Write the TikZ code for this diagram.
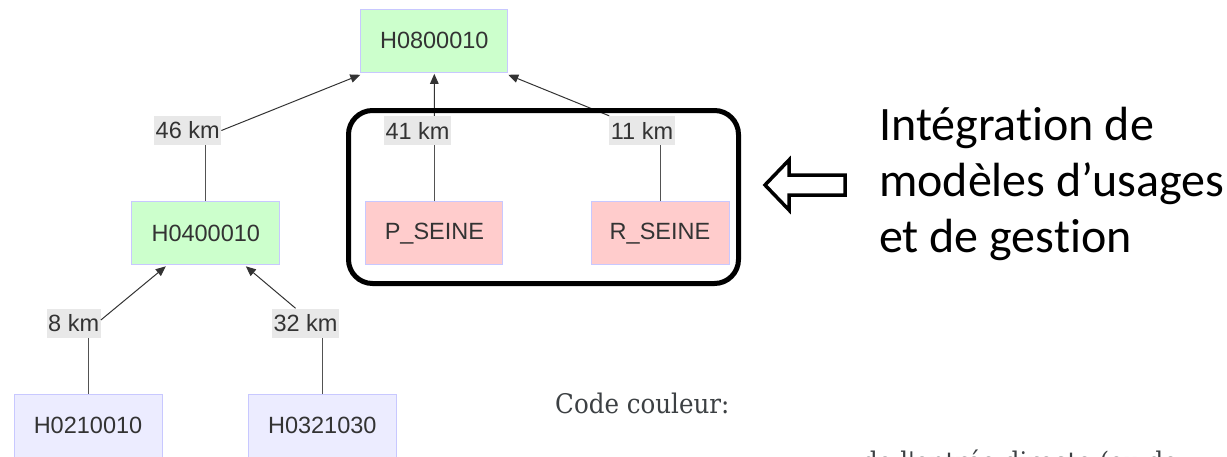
\documentclass[tikz,border=0pt]{standalone}
\usepackage{fontspec}
\setmainfont{Liberation Sans}
\newfontfamily\calib[Ligatures=NoCommon]{Carlito}
\newfontfamily\serifcode{DejaVu Serif}
\usetikzlibrary{arrows.meta,positioning,calc}
\definecolor{gfill}{HTML}{CCFFCC}
\definecolor{pfill}{HTML}{FFCCCC}
\definecolor{lfill}{HTML}{ECECFF}
\definecolor{bord}{HTML}{C8C8FF}
\definecolor{txt}{HTML}{333333}
\definecolor{lblbg}{HTML}{E8E8E8}
\definecolor{codetxt}{HTML}{3C4043}
\tikzset{
  station/.style={draw=bord, line width=1pt, inner sep=0pt, text=txt,
    minimum height=63pt, font=\fontsize{23.5}{28}\selectfont},
  greenbox/.style={station, fill=gfill},
  pinkbox/.style={station, fill=pfill},
  lavbox/.style={station, fill=lfill},
  kmlabel/.style={fill=lblbg, text=txt, inner xsep=1.5pt, inner ysep=0pt,
    minimum height=29pt, font=\fontsize{23.5}{28}\selectfont},
  stem/.style={draw=txt!85!white, line width=1pt},
  flow/.style={draw=txt, line width=1pt, -{Triangle[length=10pt,width=8.5pt]}},
  bigtext/.style={anchor=base west, inner sep=0pt, font=\calib\fontsize{48}{58}\selectfont},
  codetext/.style={anchor=base west, inner sep=0pt, text=codetxt, font=\serifcode\fontsize{27}{32}\selectfont}
}
\begin{document}
\begin{tikzpicture}[x=1pt,y=-1pt]
\useasboundingbox (0,0) rectangle (1227,456);

% station nodes
\node[greenbox, minimum width=147pt] (H08) at (434.3,40.8) {H0800010};
\node[greenbox, minimum width=148pt] (H04) at (205.8,233.3) {H0400010};
\node[pinkbox, minimum width=137pt] (PS) at (434.4,233.3) {P\_SEINE};
\node[pinkbox, minimum width=138pt] (RS) at (660,233.3) {R\_SEINE};
\node[lavbox, minimum width=148pt] (H02) at (88,425.5) {H0210010};
\node[lavbox, minimum width=148pt] (H03) at (322.3,425.5) {H0321030};

% distance labels
\node[kmlabel] (L46) at (187.7,130.5) {46 km};
\node[kmlabel] (L41) at (417.5,130.5) {41 km};
\node[kmlabel] (L11) at (642,130.5) {11 km};
\node[kmlabel] (L8) at (73.7,323) {8 km};
\node[kmlabel] (L32) at (305.6,323) {32 km};

% connectors
\draw[stem] (H04.north) -- (H04.north |- L46.south);
\draw[flow] (L46.east) -- ([shift={(0,2)}]H08.south west);
\draw[stem] (PS.north) -- (PS.north |- L41.south);
\draw[flow] (PS.north |- L41.north) -- ([shift={(0,1)}]H08.south);
\draw[stem] (RS.north) -- (RS.north |- L11.south);
\draw[flow] (L11.north west) -- ([shift={(0,2)}]H08.south east);
\draw[stem] (H02.north) -- (H02.north |- L8.south);
\draw[flow] ([shift={(0,-3)}]L8.east) -- ([shift={(-40,1)}]H04.south);
\draw[stem] (H03.north) -- (H03.north |- L32.south);
\draw[flow] ([shift={(-10,0)}]L32.north) -- ([shift={(40,1)}]H04.south);

% highlight frame
\draw[line width=5pt, rounded corners=24pt] (348.5,110.5) rectangle (738.5,283.5);

% hollow arrow
\draw[line width=3.5pt, fill=white, line join=miter]
  (765,185) -- (789,160) -- (789,175) -- (845,175) -- (845,195) -- (789,195) -- (789,210) -- cycle;

% annotation
\node[bigtext] (t1) at (879,140) {Intégration de};
\node[bigtext] (t2) at (879,196) {modèles d’usages};
\node[bigtext] (t3) at (879,252) {et de gestion};

% legend
\node[codetext] (code) at (555,413) {\scalebox{0.91}[1]{Code couleur:}};
\node[codetext] (cut) at (862,471) {\scalebox{0.91}[1]{de l'entrée directe (ou de}};
\end{tikzpicture}
\end{document}
